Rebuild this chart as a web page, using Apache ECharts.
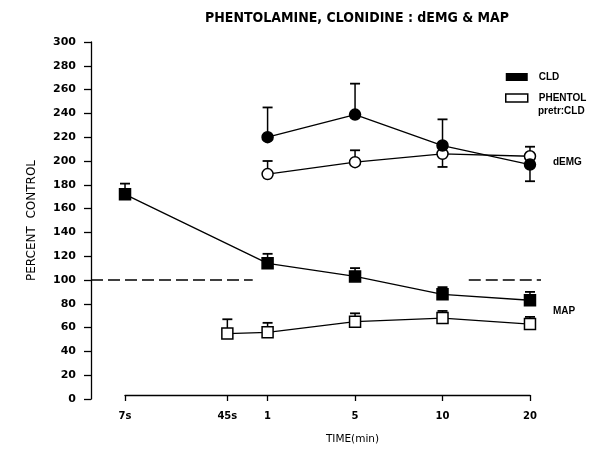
<!DOCTYPE html>
<html><head><meta charset="utf-8">
<script src="https://cdn.jsdelivr.net/npm/echarts@6/dist/echarts.min.js"></script>
<style>html,body{margin:0;padding:0;background:#fff}#chart{width:608px;height:450px}</style>
</head><body><div id="chart"></div>
<script>
// Sampling times and where each one sits along the time axis
const timeLabels = ['7s', '45s', '1', '5', '10', '20'];
const timePos = [0, 1.17, 1.63, 2.63, 3.63, 4.63];

// dEMG, percent of control (null = not sampled); errors are signed (negative = bar drawn downward)
const cldEmg = [null, null, 220, 239, 213, 197];
const cldEmgErr = [null, null, 25, 26, 22, -14];
const phenEmg = [null, null, 189, 199, 206, 204];
const phenEmgErr = [null, null, 11, 10, -11, 8];

// MAP, percent of control
const cldMap = [172, null, 114, 103, 88, 83];
const cldMapErr = [9, null, 8, 7, 6, 7];
const phenMap = [null, 55, 56, 65, 68, 63];
const phenMapErr = [null, 12, 8, 7, 6, 6];

// control level and the stretches along the time axis where its dashed line runs
const controlLevel = 100;
const controlSpans = [[-0.389, 1.46], [3.93, 4.756]];

// the plotting area reaches out to the y axis (left) and the end of the dashed line (right);
// the drawn time axis only spans 7s..20
const plotMin = -0.389, plotMax = 4.756;
const timeMin = 0, timeMax = 4.63;

const FONT = 'DejaVu Sans';
const LABEL_FONT = 'Liberation Sans';

function pts(vals) {
  return timePos.map((x, i) => [x, vals[i]]).filter(p => p[1] != null);
}
function errPts(vals, errs) {
  return timePos.map((x, i) => [x, vals[i], errs[i]]).filter(p => p[1] != null);
}

function renderErr(params, api) {
  const x = api.value(0), v = api.value(1), e = api.value(2);
  const p0 = api.coord([x, v]);
  const p1 = api.coord([x, v + e]);
  const half = 5;
  return {
    type: 'group',
    children: [
      { type: 'line', shape: { x1: p0[0], y1: p0[1], x2: p1[0], y2: p1[1] },
        style: { stroke: '#000', lineWidth: 1.5 } },
      { type: 'line', shape: { x1: p1[0] - half, y1: p1[1], x2: p1[0] + half, y2: p1[1] },
        style: { stroke: '#000', lineWidth: 1.8 } }
    ]
  };
}

function errSeries(name, vals, errs) {
  return {
    type: 'custom', name: name, renderItem: renderErr,
    xAxisIndex: 0, yAxisIndex: 0,
    data: errPts(vals, errs), z: 2, clip: false, silent: true
  };
}

function lineSeries(name, vals, symbol, filled) {
  return {
    type: 'line', name: name, data: pts(vals),
    xAxisIndex: 0, yAxisIndex: 0,
    symbol: symbol, symbolSize: 11, showSymbol: true,
    lineStyle: { color: '#000', width: 1.3 },
    itemStyle: { color: filled ? '#000' : '#fff', borderColor: '#000', borderWidth: 1.5 },
    z: 3, silent: true
  };
}

const controlSeries = controlSpans.map(s => ({
  type: 'line', name: 'control', data: [[s[0], controlLevel], [s[1], controlLevel]],
  xAxisIndex: 0, yAxisIndex: 0,
  symbol: 'none', silent: true, z: 1,
  lineStyle: { color: '#000', width: 1.6, type: [12, 5] }
}));

const chart = echarts.init(document.getElementById('chart'), null, { renderer: 'canvas' });
chart.setOption({
  animation: false,
  backgroundColor: '#fff',
  title: {
    text: 'PHENTOLAMINE, CLONIDINE : dEMG & MAP',
    left: 200, top: 6,
    textStyle: { fontFamily: 'DejaVu Sans Condensed', fontWeight: 'bold', fontSize: 14, color: '#000' }
  },
  grid: [
    { left: 91, right: 67, top: 42, bottom: 51 },   // plotting area
    { left: 125, right: 78, top: 42, bottom: 51 }   // drawn time axis
  ],
  legend: {
    orient: 'vertical', left: 505, top: 72, padding: 0, itemGap: 11,
    itemWidth: 22, itemHeight: 8, icon: 'rect', selectedMode: false,
    textStyle: { fontFamily: LABEL_FONT, fontWeight: 'bold', fontSize: 10, color: '#000', padding: [0, 0, 0, 6] },
    data: [
      { name: 'CLD', itemStyle: { color: '#000', borderWidth: 0 } },
      { name: 'PHENTOL', itemStyle: { color: '#fff', borderColor: '#000', borderWidth: 1.5 } }
    ]
  },
  xAxis: [
    {
      gridIndex: 0, type: 'value', min: plotMin, max: plotMax, show: false,
      axisLine: { onZero: false }, splitLine: { show: false }
    },
    {
      gridIndex: 1, type: 'value', min: timeMin, max: timeMax, offset: 1,
      name: 'TIME(min)', nameLocation: 'middle', nameGap: 39,
      nameTextStyle: { fontFamily: FONT, fontSize: 10.5, color: '#000', padding: [0, 0, 0, 50] },
      splitLine: { show: false },
      axisLine: { onZero: false, lineStyle: { color: '#000', width: 1.3 } },
      axisTick: { customValues: timePos, length: 6, lineStyle: { color: '#000', width: 1.3 } },
      axisLabel: {
        customValues: timePos, margin: 16,
        fontFamily: FONT, fontWeight: 'bold', fontSize: 10, color: '#000',
        formatter: v => {
          const i = timePos.findIndex(p => Math.abs(p - v) < 1e-6);
          return i >= 0 ? timeLabels[i] : '';
        }
      }
    }
  ],
  yAxis: [
    {
      gridIndex: 0, type: 'value', min: 0, max: 300, interval: 20,
      name: 'PERCENT  CONTROL', nameLocation: 'middle', nameRotate: 90, nameGap: 53,
      nameTextStyle: { fontFamily: FONT, fontSize: 12, color: '#000' },
      splitLine: { show: false },
      axisLine: { show: true, onZero: false, lineStyle: { color: '#000', width: 1.3 } },
      axisTick: { show: true, length: 7, lineStyle: { color: '#000', width: 1.3 } },
      axisLabel: { margin: 15, fontFamily: FONT, fontWeight: 'bold', fontSize: 11, color: '#000' }
    },
    { gridIndex: 1, type: 'value', min: 0, max: 300, show: false, splitLine: { show: false } }
  ],
  graphic: [
    { type: 'text', left: 538, top: 106, style: { text: 'pretr:CLD', fontFamily: LABEL_FONT, fontWeight: 'bold', fontSize: 10, fill: '#000' } },
    { type: 'text', left: 553, top: 157, style: { text: 'dEMG', fontFamily: LABEL_FONT, fontWeight: 'bold', fontSize: 10, fill: '#000' } },
    { type: 'text', left: 553, top: 306, style: { text: 'MAP', fontFamily: LABEL_FONT, fontWeight: 'bold', fontSize: 10, fill: '#000' } }
  ],
  series: [
    ...controlSeries,
    errSeries('CLD', cldEmg, cldEmgErr),
    errSeries('PHENTOL', phenEmg, phenEmgErr),
    errSeries('CLD', cldMap, cldMapErr),
    errSeries('PHENTOL', phenMap, phenMapErr),
    lineSeries('CLD', cldMap, 'rect', true),
    lineSeries('PHENTOL', phenMap, 'rect', false),
    lineSeries('PHENTOL', phenEmg, 'circle', false),
    lineSeries('CLD', cldEmg, 'circle', true)
  ]
});
</script>
</body></html>
